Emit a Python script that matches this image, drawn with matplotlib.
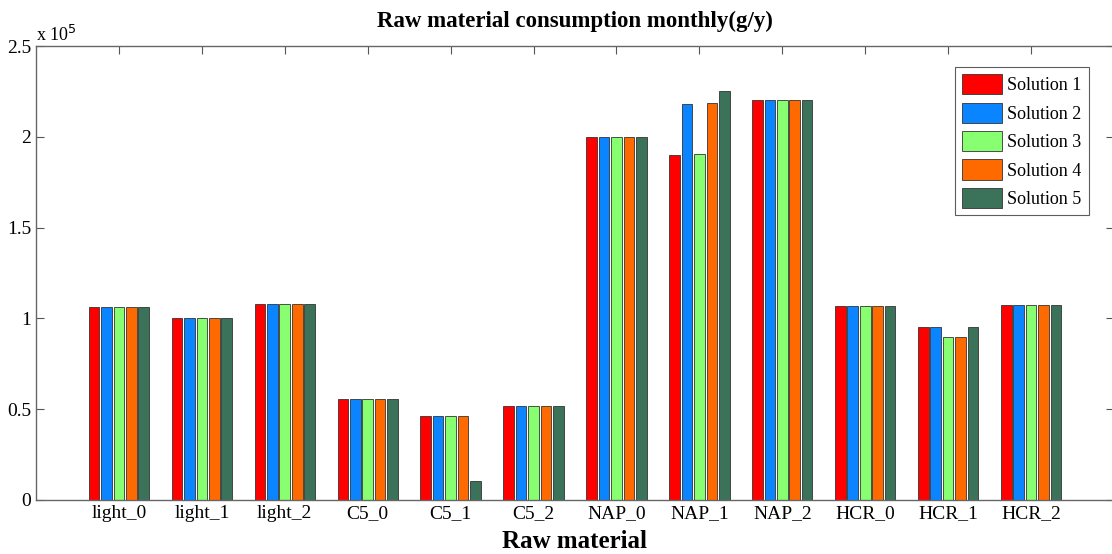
import matplotlib
matplotlib.use("Agg")
import matplotlib.pyplot as plt
import numpy as np
from matplotlib.ticker import FuncFormatter

categories = ["light_0", "light_1", "light_2", "C5_0", "C5_1", "C5_2",
              "NAP_0", "NAP_1", "NAP_2", "HCR_0", "HCR_1", "HCR_2"]
series_names = ["Solution 1", "Solution 2", "Solution 3", "Solution 4", "Solution 5"]
sol1 = [106300, 100000, 108000, 55500, 46400, 52000, 200000, 190000, 220000, 106700, 95100, 107600]
sol2 = [106300, 100000, 108000, 55500, 46400, 52000, 200000, 218000, 220000, 106700, 95100, 107600]
sol3 = [106300, 100000, 108000, 55500, 46400, 52000, 200000, 190500, 220000, 106700, 89800, 107600]
sol4 = [106300, 100000, 108000, 55500, 46400, 52000, 200000, 218600, 220000, 106700, 89800, 107600]
sol5 = [106300, 100000, 108000, 55500, 10600, 52000, 200000, 225400, 220000, 106700, 95100, 107600]
series = [sol1, sol2, sol3, sol4, sol5]
colors = ["#FF0000", "#0A84FF", "#88FF70", "#FF6A00", "#3B735A"]

plt.rcParams['font.family'] = ['Liberation Serif', 'DejaVu Serif']

fig = plt.figure(figsize=(11.12, 5.54), dpi=100)
ax = fig.add_axes([36/1112, 54/554, 1078/1112, 454/554])
ax.set_axisbelow(True)

x = np.arange(1, len(categories) + 1)
pitch = 0.15
width = 0.128
for i, (vals, c, name) in enumerate(zip(series, colors, series_names)):
    ax.bar(x + (i - 2) * pitch, vals, width=width, color=c, edgecolor="#333333",
           linewidth=0.6, label=name)

ax.set_xlim(0, 13)
ax.set_ylim(0, 250000)
ax.set_yticks([0, 50000, 100000, 150000, 200000, 250000])
ax.yaxis.set_major_formatter(FuncFormatter(lambda v, p: "%g" % (v / 1e5)))
ax.set_xticks(x)
ax.set_xticklabels(categories)
ax.tick_params(direction="in", top=True, right=True, length=6, width=0.8,
               colors="#555555", labelcolor="black", labelsize=14)
for s in ax.spines.values():
    s.set_color("#666666")
    s.set_linewidth(1.0)

ax.text(0.0, 1.003, "x 10$^5$", transform=ax.transAxes, fontsize=13,
        ha="left", va="bottom")
ax.set_title("Raw material consumption monthly(g/y)", fontsize=16.5,
             fontweight="bold", pad=14)
ax.set_xlabel("Raw material", fontsize=18, fontweight="bold", labelpad=6)

leg = ax.legend(loc="upper right", bbox_to_anchor=((1089 - 36) / 1078, (500 - 67) / 454),
                fontsize=13, frameon=True, fancybox=False, edgecolor="#333333",
                handlelength=2.2, handleheight=1.35, borderpad=0.4,
                labelspacing=0.45, handletextpad=0.3, borderaxespad=0.0)
leg.get_frame().set_linewidth(0.8)

fig.savefig("out.png", dpi=100)
